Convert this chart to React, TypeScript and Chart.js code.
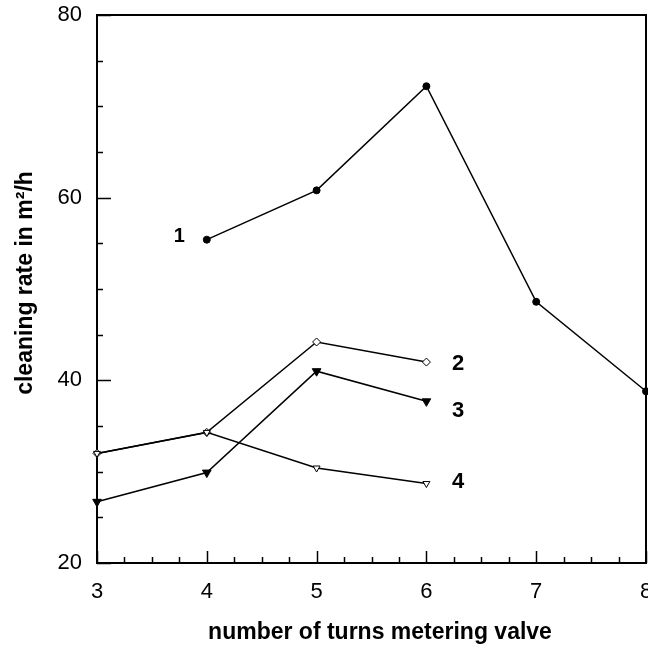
import React, { useEffect, useRef } from 'react';
import { Chart, registerables } from 'chart.js';

Chart.register(...registerables);

// Cleaning rate (m²/h) against number of turns of the metering valve
const turns1 = [4, 5, 6, 7, 8];
const rate1 = [55.4, 60.8, 72.2, 48.6, 38.8];
const turns2 = [3, 4, 5, 6];
const rate2 = [32.0, 34.3, 44.2, 42.0];
const turns3 = [3, 4, 5, 6];
const rate3 = [26.7, 29.9, 41.0, 37.7];
const turns4 = [3, 4, 5, 6];
const rate4 = [32.0, 34.3, 30.4, 28.7];

// Curve numbers placed beside their lines (data coordinates)
const curveLabels = ['1', '2', '3', '4'];
const curveLabelX = [3.75, 6.29, 6.29, 6.29];
const curveLabelY = [55.8, 41.8, 36.6, 28.9];

const xTitle = 'number of turns metering valve';
const yTitle = 'cleaning rate in m²/h';

const xMin = 3;
const xMax = 8;
const yMin = 20;
const yMax = 80;

const NARROW = '"Liberation Sans Narrow", "Arial Narrow", "Liberation Sans", sans-serif';
const SANS = '"Liberation Sans", Arial, sans-serif';

const toPoints = (xs: number[], ys: number[]) => xs.map((x, i) => ({ x, y: ys[i] }));

// Boxed frame with inward major/minor ticks, axis titles and curve numbers
const framePlugin = {
  id: 'frame',
  beforeDatasetsDraw(chart: any) {
    const { ctx, chartArea: a, scales } = chart;
    const xs = scales.x;
    const ys = scales.y;
    ctx.save();
    ctx.strokeStyle = '#000';
    ctx.lineWidth = 2;
    ctx.strokeRect(a.left, a.top, a.right - a.left, a.bottom - a.top);
    ctx.lineWidth = 1.5;
    ctx.beginPath();
    for (let v = xMin; v <= xMax + 1e-9; v += 0.25) {
      const px = Math.round(xs.getPixelForValue(v)) + 0.5;
      const major = Math.abs(v - Math.round(v)) < 1e-9;
      const len = major ? 12 : 6;
      ctx.moveTo(px, a.bottom);
      ctx.lineTo(px, a.bottom - len);
    }
    for (let v = yMin; v <= yMax + 1e-9; v += 5) {
      const py = Math.round(ys.getPixelForValue(v)) + 0.5;
      const major = v % 20 === 0;
      const len = major ? 14 : 6;
      ctx.moveTo(a.left, py);
      ctx.lineTo(a.left + len, py);
    }
    ctx.stroke();
    ctx.restore();
  },
  afterDraw(chart: any) {
    const { ctx, chartArea: a, scales } = chart;
    ctx.save();
    ctx.fillStyle = '#000';
    // curve numbers
    ctx.textAlign = 'center';
    ctx.textBaseline = 'middle';
    curveLabels.forEach((t, i) => {
      ctx.font = i === 0 ? `bold 20px ${SANS}` : `bold 22px ${NARROW}`;
      ctx.fillText(t, scales.x.getPixelForValue(curveLabelX[i]), scales.y.getPixelForValue(curveLabelY[i]));
    });
    // axis titles
    ctx.font = `bold 23px ${SANS}`;
    ctx.textBaseline = 'alphabetic';
    ctx.fillText(xTitle, a.left + 283, a.bottom + 76);
    ctx.translate(32, (a.top + a.bottom) / 2 - 6);
    ctx.rotate(-Math.PI / 2);
    ctx.fillText(yTitle, 0, 0);
    ctx.restore();
  },
};

export default function App() {
  const canvasRef = useRef<HTMLCanvasElement | null>(null);

  useEffect(() => {
    const canvas = canvasRef.current;
    if (!canvas) return;
    const common = {
      showLine: true,
      borderColor: '#000',
      borderWidth: 1.5,
      pointBorderColor: '#000',
      pointBorderWidth: 1,
      clip: false as const,
      tension: 0,
    };
    const chart = new Chart(canvas, {
      type: 'scatter',
      data: {
        datasets: [
          {
            ...common,
            label: '4',
            data: toPoints(turns4, rate4),
            pointStyle: 'triangle',
            rotation: 180,
            pointRadius: 4,
            pointBackgroundColor: '#fff',
          },
          {
            ...common,
            label: '3',
            data: toPoints(turns3, rate3),
            pointStyle: 'triangle',
            rotation: 180,
            pointRadius: 5,
            pointBackgroundColor: '#000',
          },
          {
            ...common,
            label: '2',
            data: toPoints(turns2, rate2),
            pointStyle: 'rectRot',
            pointRadius: 4,
            pointBackgroundColor: '#fff',
          },
          {
            ...common,
            label: '1',
            data: toPoints(turns1, rate1),
            pointStyle: 'circle',
            pointRadius: 3.5,
            pointBackgroundColor: '#000',
          },
        ],
      },
      options: {
        responsive: false,
        devicePixelRatio: 1,
        animation: false,
        layout: { padding: { top: 15, right: 2, left: 0, bottom: 0 }, autoPadding: false },
        plugins: { legend: { display: false }, tooltip: { enabled: false } },
        scales: {
          x: {
            type: 'linear',
            min: xMin,
            max: xMax,
            grid: { display: false, drawTicks: false },
            border: { display: false },
            ticks: {
              stepSize: 1,
              padding: 16,
              color: '#000',
              font: { family: NARROW, size: 22 },
            },
            afterFit: (s: any) => {
              s.height = 82;
              s.paddingLeft = 0;
              s.paddingRight = 0;
            },
          },
          y: {
            type: 'linear',
            min: yMin,
            max: yMax,
            grid: { display: false, drawTicks: false },
            border: { display: false },
            ticks: {
              stepSize: 20,
              padding: 15,
              color: '#000',
              font: { family: NARROW, size: 22 },
            },
            afterFit: (s: any) => {
              s.width = 97;
              s.paddingTop = 0;
              s.paddingBottom = 0;
            },
          },
        },
      },
      plugins: [framePlugin],
    });
    return () => chart.destroy();
  }, []);

  return (
    <div style={{ position: 'absolute', left: 0, top: 0, width: 648, height: 645, background: '#fff' }}>
      <canvas ref={canvasRef} width={648} height={645} style={{ display: 'block' }} />
    </div>
  );
}
